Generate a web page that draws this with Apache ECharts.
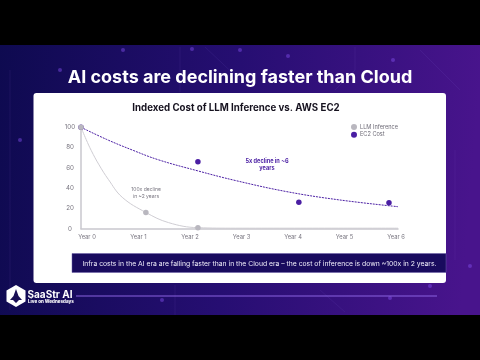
<!DOCTYPE html>
<html><head><meta charset="utf-8">
<style>html,body{margin:0;padding:0;background:#000}#c{width:480px;height:360px}</style>
<script src="https://cdn.jsdelivr.net/npm/echarts@6/dist/echarts.min.js"></script>
</head><body><div id="c"></div>
<script>
const yearLabels = ['Year 0','Year 1','Year 2','Year 3','Year 4','Year 5','Year 6'];
const yTicks = [0,20,40,60,80,100];
const llmPoints = [[0,100],[1.26,16],[2.27,1]];
const ec2Points = [[0,100],[2.27,66],[4.23,26],[5.98,25.6]];
const llmCurve = [[0,100],[0.1,88],[0.2,77],[0.35,63],[0.53,48.7],[0.8,31],[1.26,16],[1.7,6],[2.27,1],[3,0.5],[4,0.5],[5,0.5],[6.155,0.5]];
const ec2Curve = [[0,100],[0.5,88],[1,77.5],[1.5,68],[2.27,57],[3,47.5],[4,36.5],[5,28.5],[6.155,21.7]];
const FONT = 'Inter, "Noto Sans", sans-serif';
const GREY = '#b9b7bf', PURPLE = '#4a1ea3';
const dots = [[123,50],[192,49],[240,50],[288,56],[393,60],[162,300],[390,298],[430,286],[470,266],[20,140],[60,70]];
const traces = [[[180,47],[180,92]],[[205,47],[240,80]],[[355,47],[355,70],[335,90]],[[420,50],[460,90]],[[175,285],[175,315]],[[320,290],[345,312]],[[455,150],[455,260]],[[10,70],[10,310]]];
const g = [
  {type:'rect',z:-10,shape:{x:0,y:45,width:480,height:270},style:{fill:new echarts.graphic.LinearGradient(0,0,1,0.15,[{offset:0,color:'#0e0a50'},{offset:0.5,color:'#260e72'},{offset:1,color:'#48148c'}])}},
  ...traces.map(t=>({type:'polyline',z:-9,shape:{points:t},style:{stroke:'rgba(140,110,230,0.1)',lineWidth:1,fill:null}})),
  ...dots.map(d=>({type:'circle',z:-9,shape:{cx:d[0],cy:d[1],r:2},style:{fill:'rgba(130,80,240,0.45)'}})),
  {type:'text',z:-5,x:240,y:78,style:{text:'AI costs are declining faster than Cloud',fill:'#fff',font:'700 18px '+FONT,align:'center',verticalAlign:'middle'}},
  {type:'rect',z:-5,shape:{x:33.5,y:93,width:412.5,height:190,r:3},style:{fill:'#fff'}},
  {type:'text',z:-4,x:236,y:108,style:{text:'Indexed Cost of LLM Inference vs. AWS EC2',fill:'#16121f',font:'700 9.7px '+FONT,align:'center',verticalAlign:'middle'}},
  {type:'rect',z:-4,shape:{x:72,y:253.5,width:374,height:19},style:{fill:'#190b5e',stroke:'#6a5fa8',lineWidth:0.5}},
  {type:'text',z:-3,x:82.5,y:263.5,style:{text:'Infra costs in the AI era are falling faster than in the Cloud era – the cost of inference is down ~100x in 2 years.',fill:'#f0eefa',font:'400 6.8px '+FONT,align:'left',verticalAlign:'middle'}},
  {type:'text',z:10,x:146,y:193,style:{text:'100x decline\nin ~2 years',fill:'#77747f',font:'400 5px '+FONT,lineHeight:6.5,align:'center',verticalAlign:'middle'}},
  {type:'text',z:10,x:267,y:165,style:{text:'5x decline in ~6\nyears',fill:PURPLE,font:'700 5.6px '+FONT,lineHeight:7.6,align:'center',verticalAlign:'middle'}},
  {type:'line',z:-5,shape:{x1:76,y1:296,x2:437,y2:296},style:{stroke:'#8a63e0',lineWidth:1}},
  {type:'polygon',z:-5,shape:{points:[[16,285],[25.5,290.5],[25.5,301.5],[16,307],[6.5,301.5],[6.5,290.5]]},style:{fill:'#fff'}},
  {type:'polygon',z:-4,shape:{points:[[16,289],[18.5,296],[22,300],[19,300],[16,303],[13,300],[10,300],[13.5,296]]},style:{fill:'#1a0f55'}},
  {type:'text',z:-4,x:27.5,y:294.5,style:{text:'SaaStr AI',fill:'#fff',font:'700 10px '+FONT,align:'left',verticalAlign:'middle'}},
  {type:'text',z:-4,x:28,y:301.8,style:{text:'Live on Wednesdays',fill:'#fff',font:'800 4.5px '+FONT,align:'left',verticalAlign:'middle'}}
];
const chart = echarts.init(document.getElementById('c'),null,{renderer:'canvas'});
chart.setOption({
  animation:false,
  backgroundColor:'transparent',
  graphic:{elements:g},
  grid:{left:81,top:127.3,width:317,height:101.4},
  legend:{orient:'vertical',left:346,top:119,itemWidth:6,itemHeight:6,itemGap:1.8,icon:'circle',data:['LLM Inference','EC2 Cost'],
    textStyle:{fontFamily:FONT,fontSize:5.6,color:'#6d6a76',padding:[0,0,0,-2]}},
  xAxis:{type:'value',min:0,max:6.155,interval:1,splitLine:{show:false},axisTick:{show:false},z:1,
    axisLine:{show:true,lineStyle:{color:'#c9c7ce',width:1.5}},
    axisLabel:{fontFamily:FONT,fontSize:5.8,color:'#77747f',margin:6,padding:[0,0,0,12],showMaxLabel:true,showMinLabel:true,hideOverlap:false,
      formatter:v=>yearLabels[v]||''}},
  yAxis:{type:'value',min:0,max:100,interval:20,splitLine:{show:false},axisTick:{show:false},z:1,
    axisLine:{show:true,lineStyle:{color:'#c9c7ce',width:1.5}},
    axisLabel:{fontFamily:FONT,fontSize:6.2,color:'#77747f',margin:11,align:'center',formatter:v=>yTicks.includes(v)?String(v):''}},
  series:[
    {type:'line',name:'llmTrend',data:llmCurve,smooth:0.4,showSymbol:false,lineStyle:{color:'#cfcdd3',width:1},z:3},
    {type:'line',name:'ec2Trend',data:ec2Curve,smooth:0.4,showSymbol:false,lineStyle:{color:PURPLE,width:1,type:[2,1]},z:3},
    {type:'scatter',name:'EC2 Cost',data:ec2Points,symbolSize:5.5,itemStyle:{color:PURPLE,opacity:1},z:4},
    {type:'scatter',name:'LLM Inference',data:llmPoints,symbolSize:5.5,itemStyle:{color:GREY,opacity:1},z:5}
  ]
});
</script></body></html>
